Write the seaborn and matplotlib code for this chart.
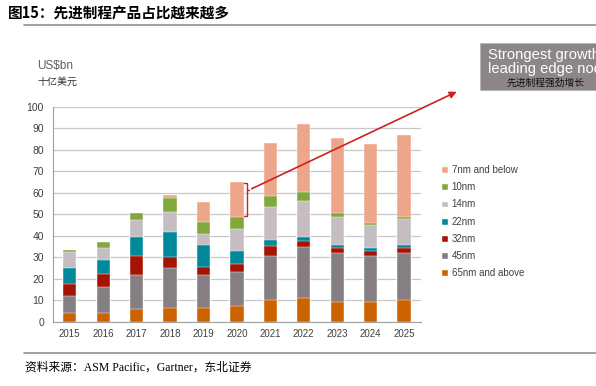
import numpy as np
import pandas as pd
import matplotlib
matplotlib.use("Agg")
import matplotlib.pyplot as plt
import seaborn as sns
from matplotlib.patches import Rectangle, Patch

# data (US$bn)
years = ['2015', '2016', '2017', '2018', '2019', '2020', '2021', '2022', '2023', '2024', '2025']
nm65 = [3.9, 4.2, 5.8, 6.5, 6.5, 7.3, 10.1, 11.2, 9.3, 9.3, 10.0]
nm45 = [8.2, 11.9, 16.1, 18.5, 15.4, 15.8, 20.6, 23.4, 22.5, 21.3, 21.8]
nm32 = [5.6, 6.2, 8.7, 5.2, 3.4, 3.9, 4.5, 2.9, 2.3, 2.1, 2.3]
nm22 = [7.1, 6.4, 8.6, 11.5, 10.2, 5.9, 2.9, 2.0, 1.4, 1.4, 1.4]
nm14 = [7.6, 5.7, 8.0, 9.3, 5.1, 10.4, 15.3, 16.5, 13.3, 10.9, 12.3]
nm10 = [0.8, 2.7, 3.5, 6.4, 5.8, 5.5, 5.1, 4.3, 1.9, 1.0, 1.0]
nm7 = [0.0, 0.0, 0.0, 1.7, 9.3, 16.0, 24.5, 31.6, 34.7, 36.5, 38.2]

labels = ['65nm and above', '45nm', '32nm', '22nm', '14nm', '10nm', '7nm and below']
colors = ['#CC6300', '#857E82', '#A51403', '#00899A', '#C4BEC2', '#82A83C', '#EDA68A']

df = pd.DataFrame({'year': years, labels[0]: nm65, labels[1]: nm45, labels[2]: nm32,
                   labels[3]: nm22, labels[4]: nm14, labels[5]: nm10, labels[6]: nm7})
cum = df[labels].cumsum(axis=1)
cum['year'] = df['year']

sns.set_style("white")
plt.rcParams['font.family'] = ['Liberation Sans', 'Noto Sans CJK SC']

fig = plt.figure(figsize=(5.96, 3.86), dpi=100)
ax = fig.add_axes([0.089, 0.1666, 0.617, 0.557])

# stacked bars: draw cumulative totals from the top layer down
for lab, col in reversed(list(zip(labels, colors))):
    sns.barplot(data=cum, x='year', y=lab, color=col, saturation=1, width=0.4,
                edgecolor='white', linewidth=0.3, ax=ax, zorder=3)

ax.set_xlim(-0.5, 10.5)
ax.set_ylim(0, 100)
ax.set_yticks(np.arange(0, 101, 10))
ax.yaxis.grid(True, color='#c8c8c8', linewidth=0.9, zorder=0)
ax.set_axisbelow(True)
ax.set_xlabel('')
ax.set_ylabel('')
for s in ['top', 'right']:
    ax.spines[s].set_visible(False)
for s in ['left', 'bottom']:
    ax.spines[s].set_color('#a0a0a0')
    ax.spines[s].set_linewidth(0.8)
ax.set_xticks(np.arange(-0.5, 10.6, 1), minor=True)
ax.tick_params(axis='x', which='major', length=0, labelsize=7, colors='#404040', pad=5)
ax.tick_params(axis='x', which='minor', length=3, color='#a0a0a0', direction='out')
ax.tick_params(axis='y', length=3, color='#a0a0a0', direction='out', labelsize=7.5, labelcolor='#404040')

# legend
handles = [Patch(facecolor=c, label=l) for l, c in reversed(list(zip(labels, colors)))]
leg = fig.legend(handles=handles, loc='upper left', bbox_to_anchor=(0.725, 0.595),
                 frameon=False, fontsize=7, handlelength=0.7, handleheight=0.7,
                 handletextpad=0.4, labelspacing=0.74)
for t in leg.get_texts():
    t.set_color('#404040')

# bracket + arrow on 2020
ax.plot([5.22, 5.3, 5.3, 5.22], [64.6, 64.6, 49.0, 49.0], color='#D02020', lw=1.0, zorder=4, clip_on=False)
ax.plot([5.3, 5.37], [61.3, 61.3], color='#D02020', lw=1.0, zorder=4, clip_on=False)
ax.annotate('', xy=(11.65, 107.5), xytext=(5.37, 61.3), xycoords='data',
            arrowprops=dict(arrowstyle='-|>', color='#D02020', lw=1.2, mutation_scale=10),
            annotation_clip=False)

# unit labels
fig.text(37 / 596, 1 - 66 / 386, 'US$bn', fontsize=8.5, color='#606060', va='center')
fig.text(37 / 596, 1 - 82 / 386, '十亿美元', fontsize=7.2, color='#303030', va='center',
         family=['Noto Sans CJK SC'])

# grey call-out box, cut off by the right edge as in the source
fig.patches.append(Rectangle((480 / 596, 1 - 90 / 386), 0.4, 47 / 386, transform=fig.transFigure,
                             facecolor='#8C8589', edgecolor='#b0b0b0', lw=0.5))
fig.text(488 / 596, 1 - 55 / 386, 'Strongest growth in', fontsize=10.6, color='white', va='center')
fig.text(488 / 596, 1 - 69 / 386, 'leading edge nodes', fontsize=10.6, color='white', va='center')
fig.text(507 / 596, 1 - 83 / 386, '先进制程强劲增长', fontsize=7, color='#111111', va='center',
         family=['Noto Sans CJK SC'])

# title and source
fig.text(8 / 596, 1 - 13 / 386, '图15：先进制程产品占比越来越多', fontsize=10.5, fontweight='bold',
         color='black', va='center', family=['Noto Sans CJK SC'])
fig.add_artist(plt.Line2D([24 / 596, 1], [1 - 25 / 386, 1 - 25 / 386], transform=fig.transFigure,
                          color='#909090', lw=1.2))
fig.add_artist(plt.Line2D([24 / 596, 1], [1 - 353 / 386, 1 - 353 / 386], transform=fig.transFigure,
                          color='#909090', lw=1.2))
fig.text(25 / 596, 1 - 368 / 386, '资料来源：ASM Pacific，Gartner，东北证券', fontsize=8.5,
         color='black', va='center', family=['Liberation Serif', 'Noto Sans CJK SC'])

fig.savefig('out.png', dpi=100)
